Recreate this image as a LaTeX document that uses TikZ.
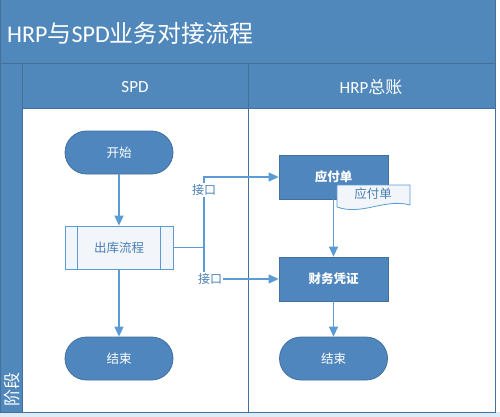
\documentclass[tikz,border=0pt]{standalone}
\usepackage{fontspec}
\setmainfont{Carlito}
\newfontfamily\cjk{Noto Sans CJK SC}
\usetikzlibrary{arrows.meta}
\definecolor{band}{HTML}{5088BC}
\definecolor{frameline}{HTML}{41719C}
\definecolor{nodefill}{HTML}{4E86BD}
\definecolor{nodeline}{HTML}{41719C}
\definecolor{arrowc}{HTML}{5B9BD5}
\definecolor{lbl}{HTML}{4A7FB5}
\definecolor{paleblue}{HTML}{DDEBF7}
\definecolor{procfill}{HTML}{F2F6FB}
\tikzset{
  term/.style={draw=nodeline, fill=nodefill, rounded corners=21.5pt, minimum width=108pt, minimum height=43pt, text=white, font=\cjk\fontsize{12.5}{14}\selectfont, line width=0.8pt},
  taskbox/.style={draw=nodeline, fill=nodefill, minimum width=109pt, minimum height=44pt, text=white, font=\cjk\fontsize{12.5}{14}\selectfont\bfseries, line width=0.8pt},
  predef/.style={draw=arrowc, fill=procfill, minimum width=108pt, minimum height=43pt, text=lbl, font=\cjk\fontsize{12.5}{14}\selectfont, line width=0.8pt},
  conn/.style={draw=arrowc, line width=1.3pt, -{Triangle[length=10pt,width=9pt]}},
  link/.style={draw=arrowc, line width=1.3pt},
  iflabel/.style={fill=white, text=lbl, font=\cjk\fontsize{12}{14}\selectfont, inner sep=1pt},
  hdr/.style={text=white, font=\fontsize{17}{20}\selectfont},
}
\begin{document}
\begin{tikzpicture}[x=1pt,y=-1pt]
\useasboundingbox (0,0) rectangle (500,417);
\fill[white] (0,0) rectangle (500,417);
\fill[paleblue] (0,412) rectangle (500,417);
% bands
\fill[band] (0,0) rectangle (495,108);
\fill[band] (0,108) rectangle (22,412);
\fill[white] (22,108) rectangle (495,412);
% lines
\draw[frameline, line width=1pt] (0,0) rectangle (495,412);
\draw[frameline, line width=1pt] (0,64) -- (495,64);
\draw[frameline, line width=1pt] (22,64) -- (22,412);
\draw[frameline, line width=1pt] (248,64) -- (248,412);
\draw[frameline, line width=0.6pt] (22,108) -- (495,108);
% texts
\node[anchor=west, text=white, font=\fontsize{24}{28}\selectfont, inner sep=0pt] (title) at (7,33) {HRP{\cjk 与}SPD{\cjk 业务对接流程}};
\node[hdr] (h1) at (135,87) {SPD};
\node[hdr] (h2) at (371,87) {HRP{\cjk 总账}};
\node[rotate=90, anchor=west, text=white, font=\cjk\fontsize{17}{20}\selectfont, inner sep=0pt] (stage) at (12,407) {阶段};
% nodes
\node[term] (start) at (119,152.5) {开始};
\node[predef] (proc) at (119,247.5) {出库流程};
\draw[arrowc, line width=0.8pt] ([xshift=13pt]proc.north west) -- ([xshift=13pt]proc.south west);
\draw[arrowc, line width=0.8pt] ([xshift=-13pt]proc.north east) -- ([xshift=-13pt]proc.south east);
\node[term] (endL) at (119,358.5) {结束};
\node[taskbox] (ap) at (333.5,177) {应付单};
\node[taskbox] (fv) at (333.5,279) {财务凭证};
\node[term] (endR) at (333.5,358.5) {结束};
% document shape
\coordinate (dA) at (337,185);
\filldraw[draw=arrowc, fill=procfill, line width=0.8pt] (337,185) -- (410,185) -- (410,205) .. controls (385,198) and (362,216) .. (337,207) -- cycle;
\node[text=lbl, font=\cjk\fontsize{12.5}{14}\selectfont, inner sep=0pt] (doc) at (373,194) {应付单};
% connectors
\coordinate (j) at (204,247.5);
\draw[conn] (start) -- (proc);
\draw[conn] (proc) -- (endL);
\draw[conn] (proc.east) -- (j) |- (ap.west);
\draw[conn] (proc.east) -- (j) |- (fv.west);
\draw[conn] (ap) -- (fv);
\draw[conn] (fv) -- (endR);
\node[iflabel] (if1) at (204,190) {接口};
\node[iflabel] (if2) at (210,279) {接口};
\end{tikzpicture}
\end{document}
